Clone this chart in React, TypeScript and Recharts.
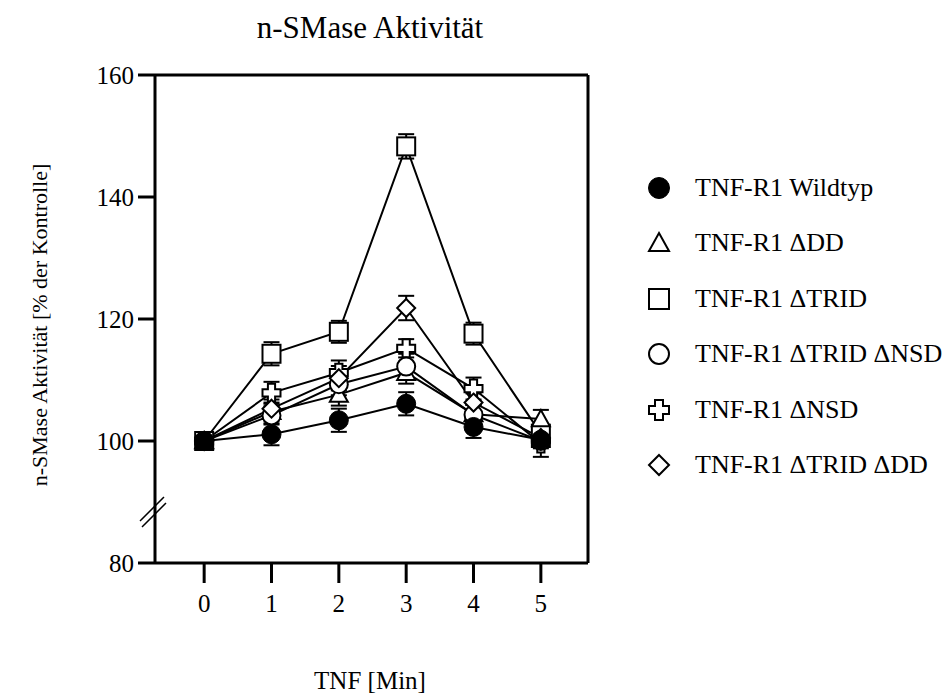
import React from "react";
import {
  LineChart, Line, XAxis, YAxis, ErrorBar, usePlotArea,
} from "recharts";

const TIMES = [0, 1, 2, 3, 4, 5];
const X_TICKS = [0, 1, 2, 3, 4, 5];
const Y_TICKS = [80, 100, 120, 140, 160];

const WILDTYP = [100, 101.1, 103.4, 106.1, 102.3, 100.2];
const WILDTYP_ERR = [0, 1.8, 1.9, 1.9, 1.8, 1.0];
const DELTA_DD = [100, 104.8, 107.6, 111.2, 104.4, 103.6];
const DELTA_DD_ERR = [0, 1.5, 1.8, 1.8, 1.5, 1.5];
const DELTA_TRID = [100, 114.3, 117.9, 148.3, 117.6, 101.2];
const DELTA_TRID_ERR = [0, 1.9, 1.8, 2.0, 1.8, 1.5];
const TRID_NSD = [100, 104.2, 109.3, 112.2, 104.3, 100.0];
const TRID_NSD_ERR = [0, 1.5, 1.8, 2.1, 1.6, 1.2];
const DELTA_NSD = [100, 107.9, 111.2, 115.2, 108.6, 99.6];
const DELTA_NSD_ERR = [0, 1.8, 2.0, 1.5, 1.8, 2.2];
const TRID_DD = [100, 105.3, 110.3, 121.8, 106.3, 100.5];
const TRID_DD_ERR = [0, 1.5, 2.0, 2.0, 1.5, 1.2];

const LABELS = [
  "TNF-R1 Wildtyp",
  "TNF-R1 \u0394DD",
  "TNF-R1 \u0394TRID",
  "TNF-R1 \u0394TRID \u0394NSD",
  "TNF-R1 \u0394NSD",
  "TNF-R1 \u0394TRID \u0394DD",
];

const FONT = "'Liberation Serif', 'Times New Roman', serif";

const data = TIMES.map((t, i) => ({
  t,
  wt: WILDTYP[i], wtErr: WILDTYP_ERR[i],
  dd: DELTA_DD[i], ddErr: DELTA_DD_ERR[i],
  trid: DELTA_TRID[i], tridErr: DELTA_TRID_ERR[i],
  tridNsd: TRID_NSD[i], tridNsdErr: TRID_NSD_ERR[i],
  nsd: DELTA_NSD[i], nsdErr: DELTA_NSD_ERR[i],
  tridDd: TRID_DD[i], tridDdErr: TRID_DD_ERR[i],
}));

type Shape = "filled" | "triangle" | "square" | "circle" | "cross" | "diamond";

function Marker({ shape, cx, cy, s = 9 }: { shape: Shape; cx: number; cy: number; s?: number }) {
  const common = { stroke: "#000", strokeWidth: 2, fill: "#fff" };
  switch (shape) {
    case "filled":
      return <circle cx={cx} cy={cy} r={s + 0.5} fill="#000" stroke="#000" strokeWidth={1} />;
    case "circle":
      return <circle cx={cx} cy={cy} r={s} {...common} />;
    case "square":
      return <rect x={cx - s} y={cy - s} width={2 * s} height={2 * s} {...common} />;
    case "triangle":
      return <polygon points={`${cx},${cy - s} ${cx + s},${cy + s * 0.8} ${cx - s},${cy + s * 0.8}`} {...common} />;
    case "diamond":
      return <polygon points={`${cx},${cy - s} ${cx + s},${cy} ${cx},${cy + s} ${cx - s},${cy}`} {...common} />;
    case "cross": {
      const a = s * 0.4;
      const p = [
        [-a, -s], [a, -s], [a, -a], [s, -a], [s, a], [a, a], [a, s], [-a, s], [-a, a], [-s, a], [-s, -a], [-a, -a],
      ].map(([x, y]) => `${cx + x},${cy + y}`).join(" ");
      return <polygon points={p} {...common} />;
    }
  }
  return null;
}

const dotFor = (shape: Shape) => (props: any) => {
  const { cx, cy, index } = props;
  if (cx == null || cy == null) return <g key={index} />;
  return <Marker key={index} shape={shape} cx={cx} cy={cy} />;
};

// top/right frame lines plus the break mark on the y axis
function Frame() {
  const area = usePlotArea();
  if (!area) return null;
  const { x, y, width, height } = area;
  const by = y + height - 58;
  return (
    <g>
      <line x1={x} y1={y} x2={x + width} y2={y} stroke="#000" strokeWidth={3} />
      <line x1={x + width} y1={y} x2={x + width} y2={y + height} stroke="#000" strokeWidth={3} />
      <line x1={x - 15} y1={by + 16} x2={x + 9} y2={by - 8} stroke="#000" strokeWidth={1.5} />
      <line x1={x - 13} y1={by + 22} x2={x + 11} y2={by - 2} stroke="#000" strokeWidth={1.5} />
    </g>
  );
}

const SERIES: { key: string; err: string; shape: Shape }[] = [
  { key: "trid", err: "tridErr", shape: "square" },
  { key: "nsd", err: "nsdErr", shape: "cross" },
  { key: "dd", err: "ddErr", shape: "triangle" },
  { key: "tridNsd", err: "tridNsdErr", shape: "circle" },
  { key: "tridDd", err: "tridDdErr", shape: "diamond" },
  { key: "wt", err: "wtErr", shape: "filled" },
];

const LEGEND_SHAPES: Shape[] = ["filled", "triangle", "square", "circle", "cross", "diamond"];

export default function App() {
  return (
    <div style={{ position: "absolute", left: 0, top: 0, width: 947, height: 695, background: "#fff", fontFamily: FONT }}>
      <div style={{ position: "absolute", left: 0, width: 740, top: 10, textAlign: "center", fontSize: 31, lineHeight: "36px" }}>
        n-SMase Aktivität
      </div>
      <LineChart width={947} height={695} data={data} margin={{ top: 75, right: 359, bottom: 72, left: 95 }}>
        <XAxis
          dataKey="t"
          type="number"
          domain={[-0.73, 5.7]}
          ticks={X_TICKS}
          allowDataOverflow
          height={60}
          axisLine={{ stroke: "#000", strokeWidth: 3 }}
          tickLine={{ stroke: "#000", strokeWidth: 3 }}
          tickSize={20}
          tickMargin={11}
          tick={{ fill: "#000", fontSize: 25, fontFamily: FONT }}
        />
        <YAxis
          type="number"
          domain={[80, 160]}
          ticks={Y_TICKS}
          allowDataOverflow
          width={60}
          axisLine={{ stroke: "#000", strokeWidth: 3 }}
          tickLine={{ stroke: "#000", strokeWidth: 3 }}
          tickSize={17}
          tickMargin={4}
          tick={{ fill: "#000", fontSize: 25, fontFamily: FONT }}
        />
        {SERIES.map((s) => (
          <Line
            key={s.key}
            dataKey={s.key}
            stroke="#000"
            strokeWidth={2}
            isAnimationActive={false}
            dot={dotFor(s.shape)}
            activeDot={false}
          >
            <ErrorBar dataKey={s.err} direction="y" width={8} stroke="#000" strokeWidth={2} isAnimationActive={false} />
          </Line>
        ))}
        <Frame />
      </LineChart>
      <div
        style={{
          position: "absolute", left: 40, top: 325, transform: "translate(-50%, -50%) rotate(-90deg)",
          whiteSpace: "nowrap", fontSize: 22,
        }}
      >
        n-SMase Aktivität [% der Kontrolle]
      </div>
      <div style={{ position: "absolute", left: 0, width: 740, top: 665, textAlign: "center", fontSize: 25, lineHeight: "32px" }}>
        TNF [Min]
      </div>
      {LABELS.map((label, i) => (
        <div key={label} style={{ position: "absolute", left: 645, top: 188 + i * 55.4 - 16, height: 32, display: "flex", alignItems: "center" }}>
          <svg width={30} height={30} style={{ marginRight: 20 }}>
            <Marker shape={LEGEND_SHAPES[i]} cx={14} cy={15} s={10} />
          </svg>
          <span style={{ fontSize: 26, whiteSpace: "nowrap" }}>{label}</span>
        </div>
      ))}
    </div>
  );
}
